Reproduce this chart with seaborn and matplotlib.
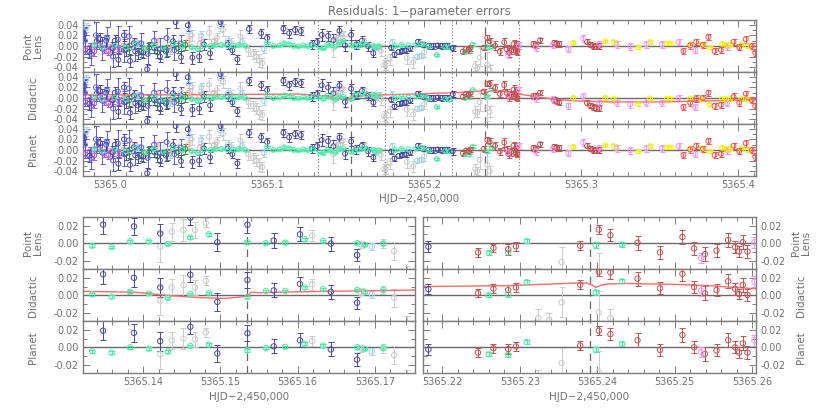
import matplotlib
matplotlib.use("Agg")
import matplotlib.pyplot as plt
import seaborn as sns
from matplotlib.ticker import FixedLocator, MultipleLocator, FormatStrFormatter

sns.set_theme(style="white")
plt.rcParams['font.family'] = ['DejaVu Sans']
plt.rcParams['axes.unicode_minus'] = True

# ------------------------------------------------------------------ text
title = "Residuals: 1\u2212parameter errors"
xlabel = "HJD\u22122,450,000"
row_labels = ["Point\nLens", "Didactic", "Planet"]

# ------------------------------------------------------------------ windows / markers
top_xlim = [5364.9828, 5365.4113]
left_win = [5365.1322, 5365.1752]
right_win = [5365.2175, 5365.2605]
left_mid = 5365.1535
right_mid = 5365.2390

# ------------------------------------------------------------------ data inside the zoom windows
# (x, point-lens residual, didactic residual, planet residual, error)
navy_w_x = [5365.1348, 5365.1388, 5365.1422, 5365.1461, 5365.1496, 5365.1535, 5365.1569,
            5365.1603, 5365.1643, 5365.1677, 5365.2182]
navy_w_pl = [0.021, 0.019, 0.011, 0.029, 0.001, 0.021, 0.003, 0.010, -0.0005, -0.0135, -0.004]
navy_w_dd = [0.024, 0.020, 0.009, 0.0235, -0.0075, 0.0175, 0.0055, 0.013, 0.004, -0.0085, 0.007]
navy_w_pt = [0.019, 0.0165, 0.007, 0.0235, -0.007, 0.016, 0.001, 0.008, -0.0025, -0.014, -0.0025]
navy_w_err = [0.011, 0.010, 0.011, 0.008, 0.010, 0.009, 0.008, 0.008, 0.008, 0.007, 0.006]

green_w_x = [5365.1334, 5365.1359, 5365.1383, 5365.1407, 5365.1432, 5365.1461, 5365.1485,
             5365.1535, 5365.1559, 5365.1584, 5365.1609, 5365.1633, 5365.1677, 5365.1687,
             5365.1711, 5365.2260, 5365.2285, 5365.2309, 5365.2398, 5365.2432]
green_w_pl = [-0.003, -0.0045, 0.002, 0.002, -0.001, 0.0065, 0.010, 0.001, 0.000, 0.0005,
              0.0045, 0.0025, 0.000, -0.002, -0.0005, -0.011, -0.0105, 0.0025, -0.002, -0.0015]
green_w_dd = [0.001, -0.0015, 0.004, 0.002, -0.003, 0.0015, 0.0025, -0.002, 0.005, 0.005,
              0.009, 0.007, 0.006, 0.004, 0.006, 0.000, 0.001, 0.015, 0.0035, 0.016]
green_w_pt = [-0.0045, -0.006, 0.000, -0.0015, -0.005, 0.0015, 0.003, -0.0035, -0.001, 0.0005,
              0.004, 0.002, 0.000, -0.002, -0.001, -0.008, -0.0085, 0.006, -0.0025, 0.004]
green_w_err = [0.0015, 0.0015, 0.0015, 0.0015, 0.0015, 0.0015, 0.0015, 0.0015, 0.0015, 0.0015,
               0.0015, 0.0015, 0.0015, 0.0015, 0.0015, 0.0025, 0.0025, 0.0025, 0.003, 0.0025]

gray_w_x = [5365.1422, 5365.1437, 5365.1452, 5365.1467, 5365.1481, 5365.1619, 5365.1682,
            5365.1711, 5365.1725, 5365.1742, 5365.2324, 5365.2338, 5365.2354, 5365.2402, 5365.2417]
gray_w_pl = [-0.004, 0.013, 0.015, 0.015, 0.023, 0.0085, -0.0015, -0.0005, -0.009, -0.036,
             -0.038, -0.042, -0.0215, -0.035, -0.045]
gray_w_dd = [-0.006, 0.009, 0.0115, 0.009, 0.0165, 0.0125, 0.004, 0.006, -0.003, -0.034,
             -0.026, -0.028, -0.008, -0.0195, -0.026]
gray_w_pt = [-0.008, 0.008, 0.010, 0.009, 0.017, 0.007, -0.0015, -0.001, -0.009, -0.036,
             -0.036, -0.040, -0.018, -0.028, -0.040]
gray_w_err = [0.017, 0.010, 0.012, 0.009, 0.005, 0.006, 0.004, 0.005, 0.010, 0.010,
              0.010, 0.008, 0.017, 0.024, 0.010]

lblue_w_x = [5365.1696]
lblue_w_pl = [-0.004]
lblue_w_dd = [0.001]
lblue_w_pt = [-0.005]
lblue_w_err = [0.004]

dred_w_x = [5365.2246, 5365.2266, 5365.2285, 5365.2295, 5365.2378, 5365.2402, 5365.2417,
            5365.2452, 5365.2481, 5365.2510, 5365.2525, 5365.2539, 5365.2554, 5365.2569,
            5365.2578, 5365.2583, 5365.2588, 5365.2594]
dred_w_pl = [-0.0105, -0.0055, -0.007, -0.0035, -0.003, 0.0155, 0.009, 0.0005, -0.0105, 0.007,
             -0.006, -0.0125, -0.0085, 0.0035, -0.0045, -0.0095, 0.001, -0.0095]
dred_w_dd = [0.0025, 0.0075, 0.006, 0.009, 0.012, 0.027, 0.026, 0.019, 0.008, 0.0245,
             0.0095, 0.0025, 0.006, 0.016, 0.0075, 0.0015, 0.012, 0.0005]
dred_w_pt = [-0.006, -0.001, -0.002, 0.001, 0.002, 0.019, 0.015, 0.008, -0.003, 0.014,
             0.000, -0.0075, -0.0035, 0.008, 0.000, -0.006, 0.0045, -0.006]
dred_w_err = [0.005, 0.005, 0.006, 0.005, 0.005, 0.005, 0.007, 0.008, 0.007, 0.008,
              0.007, 0.008, 0.007, 0.008, 0.007, 0.006, 0.008, 0.007]

viol_w_x = [5365.2534, 5365.2603]
viol_w_pl = [-0.017, 0.001]
viol_w_dd = [0.0055, 0.0155]
viol_w_pt = [-0.0055, 0.008]
viol_w_err = [0.006, 0.006]

# ------------------------------------------------------------------ data outside the windows (top panel)
navy_x = [5364.9837, 5364.9868, 5364.9915, 5364.9936, 5364.9975, 5365.0015, 5365.0030, 5365.0053,
          5365.0089, 5365.0100, 5365.0127, 5365.0153, 5365.0176, 5365.0212, 5365.0236, 5365.0280,
          5365.0318, 5365.0355, 5365.0401, 5365.0418, 5365.0452, 5365.0495, 5365.0524, 5365.0567,
          5365.0599, 5365.0637, 5365.0704, 5365.0749, 5365.0779, 5365.0811, 5365.0885, 5365.0962,
          5365.1000, 5365.1104, 5365.1140, 5365.1178, 5365.1215, 5365.1285, 5365.1318, 5365.1790,
          5365.1811, 5365.1837, 5365.1862, 5365.1884, 5365.1911, 5365.1960, 5365.1990, 5365.2028,
          5365.2059, 5365.2087, 5365.2113, 5365.2147]
navy_y = [0.022, -0.011, 0.009, 0.013, 0.010, -0.004, 0.010, -0.026, 0.020, -0.0075, -0.028,
          0.005, -0.014, -0.0125, -0.044, -0.003, -0.020, -0.0105, 0.009, 0.045, -0.021, 0.039,
          -0.022, -0.020, 0.003, -0.014, 0.045, 0.003, -0.008, -0.025, 0.032, 0.024, 0.015,
          0.0325, 0.024, 0.030, 0.028, 0.003, 0.0075, -0.003, -0.016, -0.011, -0.009, -0.008,
          -0.0045, 0.008, 0.003, 0.000, 0.000, 0.001, 0.000, 0.000]
navy_err = [0.011, 0.011, 0.011, 0.011, 0.011, 0.011, 0.011, 0.011, 0.011, 0.011, 0.011, 0.011,
            0.011, 0.011, 0.011, 0.011, 0.011, 0.011, 0.011, 0.011, 0.011, 0.011, 0.011, 0.011,
            0.011, 0.011, 0.008, 0.008, 0.008, 0.008, 0.008, 0.008, 0.008, 0.008, 0.008, 0.008,
            0.008, 0.008, 0.008, 0.005, 0.005, 0.005, 0.005, 0.005, 0.005, 0.005, 0.005, 0.005,
            0.005, 0.005, 0.005, 0.005]

blue_x = [5364.984, 5364.988, 5364.991, 5364.995, 5364.998, 5365.002, 5365.005, 5365.009,
          5365.012, 5365.016, 5365.020, 5365.024, 5365.028, 5365.032, 5365.036, 5365.041, 5365.045]
blue_y = [0.010, -0.015, 0.020, -0.005, 0.015, -0.020, 0.012, -0.008, 0.018, -0.010, 0.005,
          -0.015, 0.010, -0.005, 0.015, -0.008, 0.005]
blue_err = [0.025, 0.020, 0.025, 0.022, 0.020, 0.020, 0.025, 0.022, 0.020, 0.018, 0.020,
            0.020, 0.018, 0.020, 0.018, 0.018, 0.015]

green_x = [5364.990, 5364.995, 5365.003, 5365.010, 5365.016, 5365.022, 5365.028, 5365.034,
           5365.040, 5365.046, 5365.052, 5365.056, 5365.060, 5365.064, 5365.067, 5365.071,
           5365.075, 5365.079, 5365.082, 5365.086, 5365.100, 5365.104, 5365.108, 5365.111,
           5365.114, 5365.117, 5365.120, 5365.123, 5365.126, 5365.129, 5365.1815, 5365.1855,
           5365.190, 5365.195, 5365.199, 5365.2028, 5365.2081, 5365.2134, 5365.216]
green_y = [0.002, -0.003, 0.001, -0.002, 0.003, -0.004, 0.002, -0.003, 0.004, 0.000, -0.002,
           -0.006, 0.001, 0.000, 0.002, 0.002, 0.001, 0.000, 0.002, 0.000, 0.006, 0.000, 0.001,
           0.005, 0.003, 0.000, -0.001, 0.001, -0.001, 0.002, 0.000, 0.002, 0.001, 0.003, 0.003,
           -0.001, -0.017, -0.002, -0.003]
green_err = 0.0018

gray_x = [5365.045, 5365.052, 5365.058, 5365.063, 5365.068, 5365.072, 5365.077, 5365.083,
          5365.088, 5365.091, 5365.093, 5365.095, 5365.097, 5365.1755, 5365.178, 5365.189,
          5365.193, 5365.200]
gray_y = [0.010, 0.020, 0.012, 0.025, 0.015, 0.030, 0.006, 0.018, -0.008, -0.015, -0.020,
          -0.028, -0.032, -0.036, -0.025, -0.022, -0.031, -0.012]
gray_err = [0.010, 0.010, 0.010, 0.012, 0.010, 0.012, 0.010, 0.012, 0.010, 0.010, 0.010,
            0.012, 0.010, 0.010, 0.010, 0.012, 0.010, 0.008]

lblue_x = [5364.985, 5364.998, 5365.018, 5365.038, 5365.050, 5365.058, 5365.070, 5365.075,
           5365.084, 5365.098, 5365.1796, 5365.1954, 5365.198]
lblue_y = [0.035, 0.012, 0.004, -0.008, 0.027, 0.020, 0.037, 0.010, 0.008, -0.006, 0.006,
           -0.020, -0.018]
lblue_err = [0.008, 0.008, 0.008, 0.008, 0.008, 0.008, 0.008, 0.008, 0.008, 0.008, 0.007,
             0.005, 0.005]

pink_x = [5364.992, 5365.000, 5365.008, 5365.015, 5365.022, 5365.030, 5365.038, 5365.050,
          5365.057, 5365.066]
pink_y = [0.003, -0.005, -0.002, 0.005, -0.008, 0.008, 0.002, 0.010, 0.004, 0.008]
pink_err = 0.008

purple_x = [5364.984, 5364.987, 5364.990, 5364.993, 5364.996, 5364.999, 5365.002, 5365.006]
purple_y = [-0.008, -0.003, -0.010, 0.002, -0.006, -0.009, -0.004, -0.007]
purple_err = 0.008

dgreen_x = [5365.012, 5365.020, 5365.025, 5365.030, 5365.036, 5365.043, 5365.048]
dgreen_y = [-0.005, -0.010, -0.003, -0.012, -0.008, -0.004, 0.002]
dgreen_err = 0.010

dred_x = [5365.2696, 5365.2710, 5365.2738, 5365.2828, 5365.2843, 5365.2860, 5365.3036,
          5365.3057, 5365.3072, 5365.3093, 5365.3115]
dred_y = [0.004, 0.002, 0.011, 0.006, 0.004, 0.004, 0.008, 0.003, 0.000, -0.001, 0.000]
dred_dd = [0.004, 0.004, 0.010, -0.004, -0.007, -0.009, -0.009, -0.0145, -0.017, -0.019, -0.019]
dred_err = 0.005

viol_x = [5365.2710, 5365.2818, 5365.2919, 5365.3013, 5365.3115, 5365.3225, 5365.3312,
          5365.3414, 5365.3513, 5365.3620, 5365.3726, 5365.3930]
viol_y = [-0.003, 0.002, -0.006, 0.014, 0.004, 0.003, -0.001, 0.003, 0.003, 0.0075, -0.0075,
          -0.001]
viol_dd = [-0.001, -0.0025, -0.0145, 0.003, -0.009, -0.009, -0.012, -0.009, -0.009, 0.000,
           -0.017, -0.010]
viol_err = 0.006

yell_x = [5365.2949, 5365.3153, 5365.3206, 5365.3361, 5365.3439, 5365.3545, 5365.3570,
          5365.3694, 5365.3768, 5365.3817, 5365.3896, 5365.3923, 5365.3950, 5365.4020, 5365.4060]
yell_y = [0.006, 0.009, 0.0075, -0.003, 0.0075, 0.005, 0.005, 0.003, 0.003, -0.003, 0.004,
          0.002, 0.003, 0.002, 0.000]
yell_dd = [0.000, 0.000, -0.001, -0.012, -0.001, -0.001, -0.001, -0.001, -0.003, -0.013,
           -0.002, -0.002, -0.002, -0.002, -0.003]
yell_err = 0.003

red_x = [5365.3651, 5365.3694, 5365.3732, 5365.3774, 5365.3810, 5365.3849, 5365.3889,
         5365.3970, 5365.4006, 5365.4048, 5365.4087, 5365.4108]
red_y = [-0.0095, 0.001, 0.0075, 0.002, 0.017, -0.0095, -0.0075, 0.008, -0.002, 0.0125, 0.000,
         -0.0125]
red_dd = [-0.017, -0.009, -0.001, 0.000, 0.010, -0.015, -0.013, 0.0025, -0.009, 0.008, -0.004,
          -0.015]
red_err = 0.006

# didactic minus point-lens model curve
curve_x = [5364.982, 5365.050, 5365.120, 5365.1325, 5365.139, 5365.143, 5365.147, 5365.1505,
           5365.152, 5365.1535, 5365.154, 5365.155, 5365.160, 5365.164, 5365.175, 5365.200,
           5365.2174, 5365.2286, 5365.2372, 5365.2387, 5365.2394, 5365.2398, 5365.2405,
           5365.2415, 5365.2437, 5365.250, 5365.2544, 5365.2603, 5365.270, 5365.285, 5365.300,
           5365.320, 5365.350, 5365.380, 5365.412]
curve_y = [0.006, 0.006, 0.0075, 0.0045, 0.0035, 0.000, -0.0025, -0.0035, -0.0025, -0.001,
           0.0035, 0.003, 0.004, 0.0045, 0.006, 0.008, 0.010, 0.011, 0.014, 0.014, 0.0115,
           0.009, 0.0115, 0.013, 0.0135, 0.0125, 0.011, 0.0075, 0.003, -0.003, -0.006, -0.0075,
           -0.0075, -0.0055, -0.003]

# ------------------------------------------------------------------ colours
C_NAVY, C_BLUE, C_GREEN, C_GRAY = '#4848a8', '#5a5aee', '#44f0a6', '#cacaca'
C_LBLUE, C_PINK, C_PURPLE, C_DGREEN = '#a6d4f0', '#f2acac', '#b450e0', '#2e8a2e'
C_DRED, C_VIOL, C_YELL, C_RED = '#c85050', '#f294f2', '#f4f400', '#ff5050'
C_CURVE = '#ff6a6a'
TXT = '#707070'
FRAME = '#7c7c7c'

out_series = [  # colour, x, y (point lens / planet), y didactic, err
    (C_GRAY, gray_x, gray_y, gray_y, gray_err),
    (C_LBLUE, lblue_x, lblue_y, lblue_y, lblue_err),
    (C_PINK, pink_x, pink_y, pink_y, pink_err),
    (C_PURPLE, purple_x, purple_y, purple_y, purple_err),
    (C_DGREEN, dgreen_x, dgreen_y, dgreen_y, dgreen_err),
    (C_BLUE, blue_x, blue_y, blue_y, blue_err),
    (C_NAVY, navy_x, navy_y, navy_y, navy_err),
    (C_GREEN, green_x, green_y, green_y, green_err),
    (C_DRED, dred_x, dred_y, dred_dd, dred_err),
    (C_VIOL, viol_x, viol_y, viol_dd, viol_err),
    (C_YELL, yell_x, yell_y, yell_dd, yell_err),
    (C_RED, red_x, red_y, red_dd, red_err),
]
win_series = [
    (C_GRAY, gray_w_x, [gray_w_pl, gray_w_dd, gray_w_pt], gray_w_err),
    (C_LBLUE, lblue_w_x, [lblue_w_pl, lblue_w_dd, lblue_w_pt], lblue_w_err),
    (C_NAVY, navy_w_x, [navy_w_pl, navy_w_dd, navy_w_pt], navy_w_err),
    (C_GREEN, green_w_x, [green_w_pl, green_w_dd, green_w_pt], green_w_err),
    (C_DRED, dred_w_x, [dred_w_pl, dred_w_dd, dred_w_pt], dred_w_err),
    (C_VIOL, viol_w_x, [viol_w_pl, viol_w_dd, viol_w_pt], viol_w_err),
]


def draw(ax, x, y, e, color, s=13, lw=0.7, cap=1.9):
    ax.errorbar(x, y, yerr=e, fmt='none', ecolor=color, elinewidth=lw,
                capsize=cap, capthick=lw, zorder=2)
    sns.scatterplot(x=x, y=y, ax=ax, marker='o', s=s, facecolor='none',
                    edgecolor=color, linewidth=lw, legend=False, zorder=3)


def style(ax, ylim, ymaj, ymin, xmaj, xmin, xfmt, show_x, ylab_side):
    ax.set_facecolor('white')
    ax.set_ylim(*ylim)
    ax.yaxis.set_major_locator(FixedLocator(ymaj))
    ax.yaxis.set_minor_locator(FixedLocator(ymin))
    ax.yaxis.set_major_formatter(FormatStrFormatter('%.2f'))
    ax.xaxis.set_major_locator(MultipleLocator(xmaj))
    ax.xaxis.set_minor_locator(MultipleLocator(xmin))
    ax.xaxis.set_major_formatter(FormatStrFormatter(xfmt))
    ax.tick_params(which='both', direction='in', top=True, right=True, bottom=True, left=True,
                   colors=FRAME, labelcolor=TXT, labelsize=7, width=0.7)
    ax.tick_params(which='major', length=5, pad=3)
    ax.tick_params(which='minor', length=3)
    ax.tick_params(axis='x', labelbottom=show_x, labeltop=False)
    if ylab_side == 'left':
        ax.tick_params(axis='y', labelleft=True, labelright=False)
    else:
        ax.tick_params(axis='y', labelleft=False, labelright=True)
    for sp in ax.spines.values():
        sp.set_color(FRAME)
        sp.set_linewidth(1.0)
    ax.set_xlabel('')
    ax.set_ylabel('')


W, H = 830, 415
fig = plt.figure(figsize=(W / 100, H / 100), dpi=100)


def add(x0, y0, x1, y1):
    return fig.add_axes([x0 / W, 1 - y1 / H, (x1 - x0) / W, (y1 - y0) / H])


# ------------------------------------------------------------------ top panel
top_rows = [(20, 72), (72, 124), (124, 176)]
for r, (y0, y1) in enumerate(top_rows):
    ax = add(83, y0, 756, y1)
    ax.axhline(0, color='#6a6a6a', lw=1.0, zorder=1.5)
    for xv in (left_win[0], left_win[1], right_win[0], right_win[1]):
        ax.axvline(xv, color='#777777', lw=0.8, ls=(0, (1, 2)), zorder=1)
    for xv in (left_mid, right_mid):
        ax.axvline(xv, color='#666666', lw=0.9, ls=(0, (6, 4)), zorder=1)
    if r == 1:
        sns.lineplot(x=curve_x, y=curve_y, ax=ax, color=C_CURVE, lw=1.0, sort=False,
                     estimator=None, zorder=2.5)
    for col, x, ypl, ydd, e in out_series:
        draw(ax, x, ydd if r == 1 else ypl, e, col, s=12, cap=1.8)
    for col, x, ys, e in win_series:
        draw(ax, x, ys[r], e, col, s=12, cap=1.8)
    ax.set_xlim(*top_xlim)
    style(ax, (-0.049, 0.049), [-0.04, -0.02, 0.0, 0.02, 0.04], [-0.03, -0.01, 0.01, 0.03],
          0.1, 0.01, '%.1f', r == 2, 'left')

# ------------------------------------------------------------------ bottom panels
bot_rows = [(217, 269.3), (269.3, 321.3), (321.3, 373.3)]
for side, (xa, xb, win, mid) in enumerate([(83, 415, left_win, left_mid),
                                            (423, 756, right_win, right_mid)]):
    for r, (y0, y1) in enumerate(bot_rows):
        ax = add(xa, y0, xb, y1)
        ax.axhline(0, color='#6a6a6a', lw=1.0, zorder=1.5)
        ax.axvline(mid, color='#666666', lw=0.9, ls=(0, (6, 4)), zorder=1)
        if r == 1:
            sns.lineplot(x=curve_x, y=curve_y, ax=ax, color=C_CURVE, lw=1.0, sort=False,
                         estimator=None, zorder=2.5)
        for col, x, ys, e in win_series:
            draw(ax, x, ys[r], e, col, s=15, cap=2.0)
        ax.set_xlim(*win)
        style(ax, (-0.0297, 0.0297), [-0.02, 0.0, 0.02], [-0.01, 0.01],
              0.01, 0.002, '%.2f', r == 2, 'left' if side == 0 else 'right')

# ------------------------------------------------------------------ texts
fig.text(419 / W, 1 - 11 / H, title, ha='center', va='center', fontsize=8.5, color=TXT)
fig.text(419 / W, 1 - 199 / H, xlabel, ha='center', va='center', fontsize=7.5, color=TXT)
fig.text(249 / W, 1 - 397 / H, xlabel, ha='center', va='center', fontsize=7.5, color=TXT)
fig.text(589 / W, 1 - 397 / H, xlabel, ha='center', va='center', fontsize=7.5, color=TXT)

for (y0, y1), lab in zip(top_rows, row_labels):
    fig.text(33 / W, 1 - (y0 + y1) / 2 / H, lab, ha='center', va='center', rotation=90,
             fontsize=7.5, color=TXT, multialignment='center', linespacing=1.0)
for (y0, y1), lab in zip(bot_rows, row_labels):
    fig.text(33 / W, 1 - (y0 + y1) / 2 / H, lab, ha='center', va='center', rotation=90,
             fontsize=7.5, color=TXT, multialignment='center', linespacing=1.0)
    fig.text(801 / W, 1 - (y0 + y1) / 2 / H, lab, ha='center', va='center', rotation=90,
             fontsize=7.5, color=TXT, multialignment='center', linespacing=1.0)

fig.savefig('out.png', dpi=100, facecolor='white')
